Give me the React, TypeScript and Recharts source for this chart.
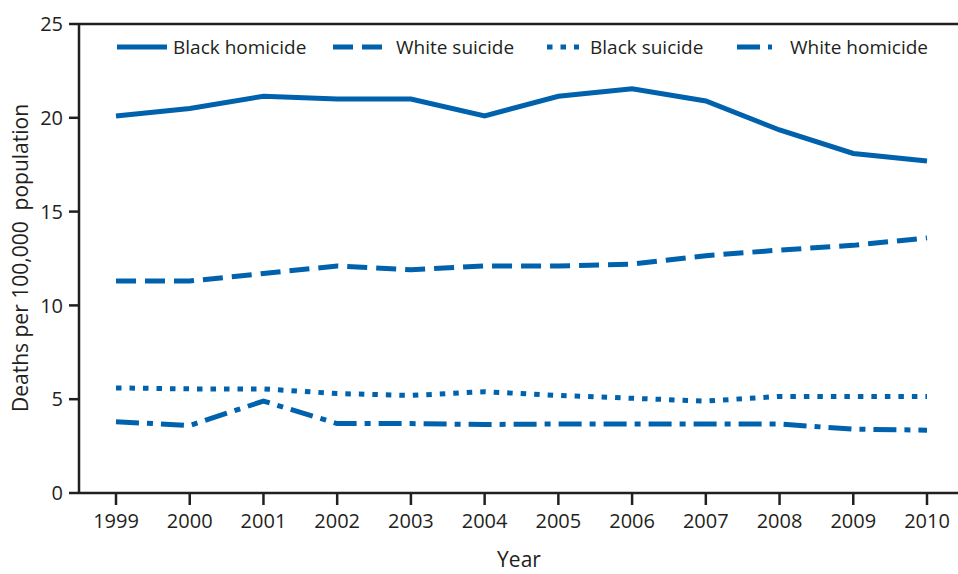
import { LineChart, Line, XAxis, YAxis, ReferenceLine } from "recharts";

// ─── Data ──────────────────────────────────────────────────────────────────

const years = [1999, 2000, 2001, 2002, 2003, 2004, 2005, 2006, 2007, 2008, 2009, 2010];
const blackHomicide = [20.1, 20.5, 21.15, 21.0, 21.0, 20.1, 21.15, 21.55, 20.9, 19.35, 18.1, 17.7];
const whiteSuicide = [11.3, 11.3, 11.7, 12.1, 11.9, 12.1, 12.1, 12.2, 12.65, 12.95, 13.2, 13.6];
const blackSuicide = [5.6, 5.55, 5.55, 5.3, 5.2, 5.4, 5.2, 5.05, 4.9, 5.15, 5.15, 5.15];
const whiteHomicide = [3.8, 3.6, 4.9, 3.7, 3.7, 3.65, 3.68, 3.68, 3.68, 3.68, 3.4, 3.35];
const yTicks = [0, 5, 10, 15, 20, 25];

const data = years.map((year, i) => ({
  year,
  blackHomicide: blackHomicide[i],
  whiteSuicide: whiteSuicide[i],
  blackSuicide: blackSuicide[i],
  whiteHomicide: whiteHomicide[i],
}));

const BLUE = "#0062AC";
const INK = "#231F20";
const FONT = "'Open Sans', sans-serif";

const series = [
  { key: "blackHomicide", name: "Black homicide", dash: undefined, sample: 50, textX: 173, x: 117 },
  { key: "whiteSuicide", name: "White suicide", dash: "20 9", sample: 52, textX: 396, x: 333 },
  { key: "blackSuicide", name: "Black suicide", dash: "5.5 8", sample: 32, textX: 590, x: 547 },
  { key: "whiteHomicide", name: "White homicide", dash: "23 8 6 8", sample: 35, textX: 790, x: 737 },
];

// ─── Legend (overlay inside the plot) ──────────────────────────────────────

function ChartLegend() {
  return (
    <svg
      width={958}
      height={30}
      style={{ position: "absolute", left: 0, top: 33, display: "block", pointerEvents: "none" }}
    >
      {series.map((s) => (
        <g key={s.key}>
          <line
            x1={s.x}
            x2={s.x + s.sample}
            y1={14}
            y2={14}
            stroke={BLUE}
            strokeWidth={5}
            strokeDasharray={s.dash}
          />
          <text x={s.textX} y={21} fill={INK} fontSize={19} fontFamily={FONT}>
            {s.name}
          </text>
        </g>
      ))}
    </svg>
  );
}

// ─── Main ──────────────────────────────────────────────────────────────────

export default function App() {
  return (
    <div style={{ position: "absolute", left: 0, top: 0, width: 958, height: 574, background: "#fff" }}>
      <LineChart
        width={958}
        height={574}
        data={data}
        margin={{ top: 24, right: 0, bottom: 0, left: 0 }}
        style={{ fontFamily: FONT }}
      >
        <XAxis
          dataKey="year"
          type="number"
          domain={[1999, 2010]}
          ticks={years}
          padding={{ left: 37, right: 31 }}
          height={81}
          axisLine={{ stroke: INK, strokeWidth: 2.5 }}
          tickLine={{ stroke: INK, strokeWidth: 2.5 }}
          tickSize={12}
          tickMargin={9}
          tick={{ fill: INK, fontSize: 20 }}
          label={{
            content: () => (
              <text x={519} y={567} textAnchor="middle" fill={INK} fontSize={21} fontFamily={FONT}>
                Year
              </text>
            ),
          }}
        />
        <YAxis
          domain={[0, 25]}
          ticks={yTicks}
          width={79}
          axisLine={{ stroke: INK, strokeWidth: 2.5 }}
          tickLine={{ stroke: INK, strokeWidth: 2.5 }}
          tickSize={10}
          tickMargin={6}
          tick={{ fill: INK, fontSize: 20 }}
          label={{
            content: () => (
              <text
                x={28}
                y={258}
                transform="rotate(-90 28 258)"
                textAnchor="middle"
                fill={INK}
                fontSize={21}
                fontFamily={FONT}
                style={{ whiteSpace: "pre" }}
              >
                {"Deaths per 100,000  population"}
              </text>
            ),
          }}
        />
        <ReferenceLine y={25} stroke={INK} strokeWidth={2.5} />
        {series.map((s) => (
          <Line
            key={s.key}
            dataKey={s.key}
            name={s.name}
            type="linear"
            stroke={BLUE}
            strokeWidth={5}
            strokeDasharray={s.dash}
            dot={false}
            activeDot={false}
            isAnimationActive={false}
          />
        ))}
      </LineChart>
      <ChartLegend />
    </div>
  );
}
